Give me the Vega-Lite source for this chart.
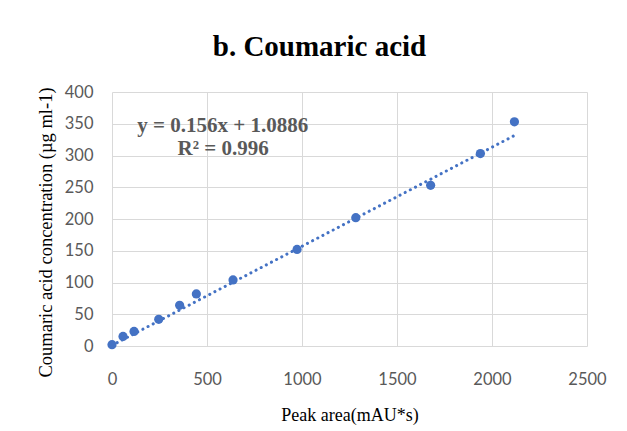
{
  "$schema": "https://vega.github.io/schema/vega-lite/v6.json",
  "autosize": "none",
  "width": 475,
  "height": 254,
  "padding": {"left": 112, "top": 92, "right": 40, "bottom": 85},
  "background": "white",
  "title": {
    "text": "b. Coumaric acid",
    "font": "Liberation Serif",
    "fontSize": 29,
    "fontWeight": "bold",
    "color": "#000000",
    "anchor": "middle",
    "frame": "group",
    "dx": -30,
    "dy": 35,
    "baseline": "alphabetic",
    "offset": 34
  },
  "config": {
    "view": {"stroke": null},
    "axis": {
      "grid": true,
      "gridColor": "#D9D9D9",
      "gridWidth": 1,
      "domain": false,
      "ticks": false,
      "tickSize": 0,
      "labelFont": "Lato",
      "labelFontSize": 16.5,
      "labelColor": "#595959",
      "labelOverlap": false,
      "labelFlush": false,
      "format": "d",
      "titleFont": "Liberation Serif",
      "titleFontWeight": "normal",
      "titleColor": "#000000"
    },
    "axisX": {
      "titleFontSize": 18,
      "titleBaseline": "alphabetic",
      "titleY": 74,
      "labelBaseline": "alphabetic",
      "labelPadding": 38
    },
    "axisY": {
      "titleFontSize": 18.5,
      "titleBaseline": "middle",
      "titleX": -66.5,
      "titleY": 140,
      "labelPadding": 19
    }
  },
  "datasets": {
    "points": [
      {"area": 0, "conc": 2},
      {"area": 58, "conc": 15},
      {"area": 116, "conc": 23},
      {"area": 246, "conc": 42},
      {"area": 356, "conc": 64},
      {"area": 444, "conc": 82},
      {"area": 637, "conc": 104},
      {"area": 974, "conc": 152},
      {"area": 1283, "conc": 202},
      {"area": 1677, "conc": 253},
      {"area": 1939, "conc": 303},
      {"area": 2118, "conc": 353}
    ],
    "trend": [
      {"area": 0, "conc": 1.0886},
      {"area": 2118, "conc": 331.5}
    ]
  },
  "layer": [
    {
      "data": {"name": "trend"},
      "mark": {"type": "line", "color": "#4472C4", "strokeWidth": 3, "strokeDash": [0.1, 5.7], "strokeCap": "round"},
      "encoding": {
        "x": {"field": "area", "type": "quantitative", "scale": {"domain": [0, 2500], "nice": false}, "axis": {"title": "Peak area(mAU*s)", "values": [0, 500, 1000, 1500, 2000, 2500]}},
        "y": {"field": "conc", "type": "quantitative", "scale": {"domain": [0, 400], "nice": false}, "axis": {"title": "Coumaric acid concentration (µg ml-1)", "values": [0, 50, 100, 150, 200, 250, 300, 350, 400]}}
      }
    },
    {
      "data": {"name": "points"},
      "mark": {"type": "circle", "color": "#4472C4", "size": 85, "opacity": 1},
      "encoding": {
        "x": {"field": "area", "type": "quantitative", "axis": {"title": "Peak area(mAU*s)", "values": [0, 500, 1000, 1500, 2000, 2500]}},
        "y": {"field": "conc", "type": "quantitative", "axis": {"title": "Coumaric acid concentration (µg ml-1)", "values": [0, 50, 100, 150, 200, 250, 300, 350, 400]}}
      }
    },
    {
      "data": {"values": [{"label": "y = 0.156x + 1.0886"}]},
      "mark": {"type": "text", "font": "Liberation Serif", "fontSize": 21, "fontWeight": "bold", "color": "#595959", "align": "center", "baseline": "middle"},
      "encoding": {
        "x": {"datum": 583, "type": "quantitative", "axis": {"title": "Peak area(mAU*s)", "values": [0, 500, 1000, 1500, 2000, 2500]}},
        "y": {"datum": 347, "type": "quantitative", "axis": {"title": "Coumaric acid concentration (µg ml-1)", "values": [0, 50, 100, 150, 200, 250, 300, 350, 400]}},
        "text": {"field": "label"}
      }
    },
    {
      "data": {"values": [{"label": "R² = 0.996"}]},
      "mark": {"type": "text", "font": "Liberation Serif", "fontSize": 21, "fontWeight": "bold", "color": "#595959", "align": "center", "baseline": "middle"},
      "encoding": {
        "x": {"datum": 585, "type": "quantitative", "axis": {"title": "Peak area(mAU*s)", "values": [0, 500, 1000, 1500, 2000, 2500]}},
        "y": {"datum": 311, "type": "quantitative", "axis": {"title": "Coumaric acid concentration (µg ml-1)", "values": [0, 50, 100, 150, 200, 250, 300, 350, 400]}},
        "text": {"field": "label"}
      }
    }
  ]
}
